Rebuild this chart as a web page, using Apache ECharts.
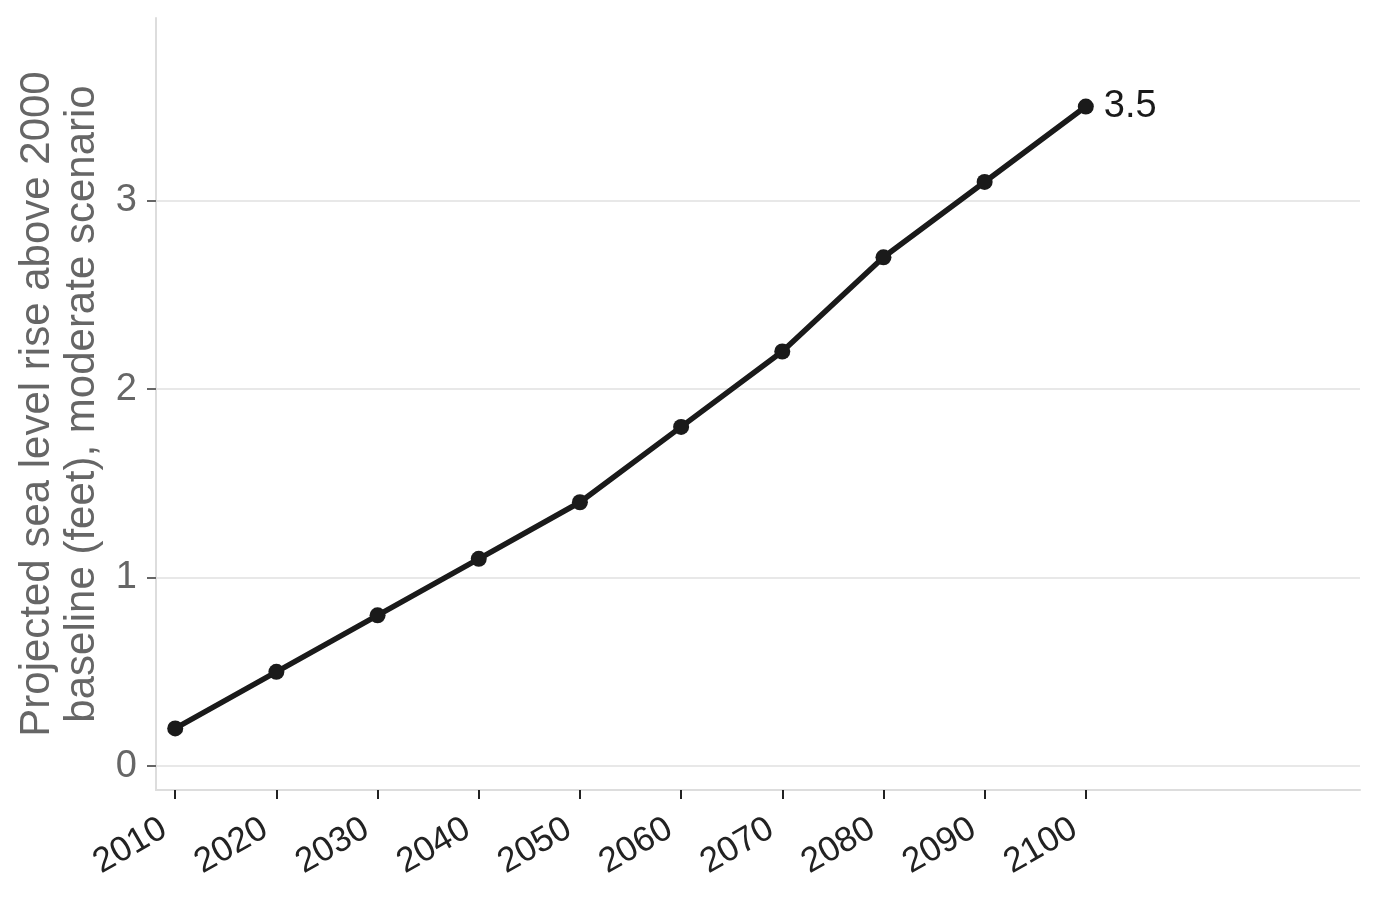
<!DOCTYPE html>
<html>
<head>
<meta charset="UTF-8">
<title>Sea level rise</title>
<style>
html, body { margin: 0; padding: 0; background: #fff; }
#main { width: 1379px; height: 899px; }
</style>
</head>
<body>
<div id="main"></div>
<script src="https://cdn.jsdelivr.net/npm/echarts@6/dist/echarts.min.js"></script>
<script>
var years = [2010, 2020, 2030, 2040, 2050, 2060, 2070, 2080, 2090, 2100];
var riseFeet = [0.2, 0.5, 0.8, 1.1, 1.4, 1.8, 2.2, 2.7, 3.1, 3.5];
var yTicks = [0, 1, 2, 3];
var yName = 'Projected sea level rise above 2000\nbaseline (feet), moderate scenario';

var points = [];
for (var i = 0; i < years.length; i++) {
  points.push([years[i], riseFeet[i]]);
}

var myChart = echarts.init(document.getElementById('main'));
var option = {
  animation: false,
  textStyle: { fontFamily: 'Liberation Sans, Arial, sans-serif' },
  grid: { left: 156, right: 19, top: 18, bottom: 109, containLabel: false, outerBoundsMode: 'none' },
  xAxis: {
    type: 'value',
    min: 2008.1,
    max: 2127.1,
    axisLine: { show: true, onZero: false, lineStyle: { color: '#dddddd', width: 2 } },
    axisTick: { show: true, customValues: years, length: 9, lineStyle: { color: '#222', width: 2 } },
    axisLabel: {
      customValues: years,
      rotate: 30,
      fontSize: 35,
      color: '#222',
      margin: 30,
      padding: [0, 13, 0, 0],
      formatter: function (v) { return String(v); }
    },
    splitLine: { show: false }
  },
  yAxis: {
    type: 'value',
    min: -0.127,
    max: 3.97,
    name: yName,
    nameLocation: 'middle',
    nameGap: 50,
    nameTextStyle: { fontSize: 42, color: '#666', lineHeight: 45 },
    axisLine: { show: true, lineStyle: { color: '#dddddd', width: 2 } },
    axisTick: { show: true, customValues: yTicks, length: 9, lineStyle: { color: '#666', width: 2 } },
    axisLabel: { customValues: yTicks, fontSize: 38, color: '#666', margin: 19 },
    splitLine: { show: true, lineStyle: { color: '#e8e8e8', width: 2 } }
  },
  series: [{
    type: 'line',
    data: points,
    symbol: 'circle',
    symbolSize: 16,
    lineStyle: { color: '#1a1a1a', width: 5.5 },
    itemStyle: { color: '#1a1a1a' },
    label: {
      show: true,
      position: 'right',
      distance: 10,
      fontSize: 38,
      color: '#1a1a1a',
      formatter: function (p) {
        return p.dataIndex === years.length - 1 ? String(p.value[1]) : '';
      }
    }
  }]
};
myChart.setOption(option);
</script>
</body>
</html>
